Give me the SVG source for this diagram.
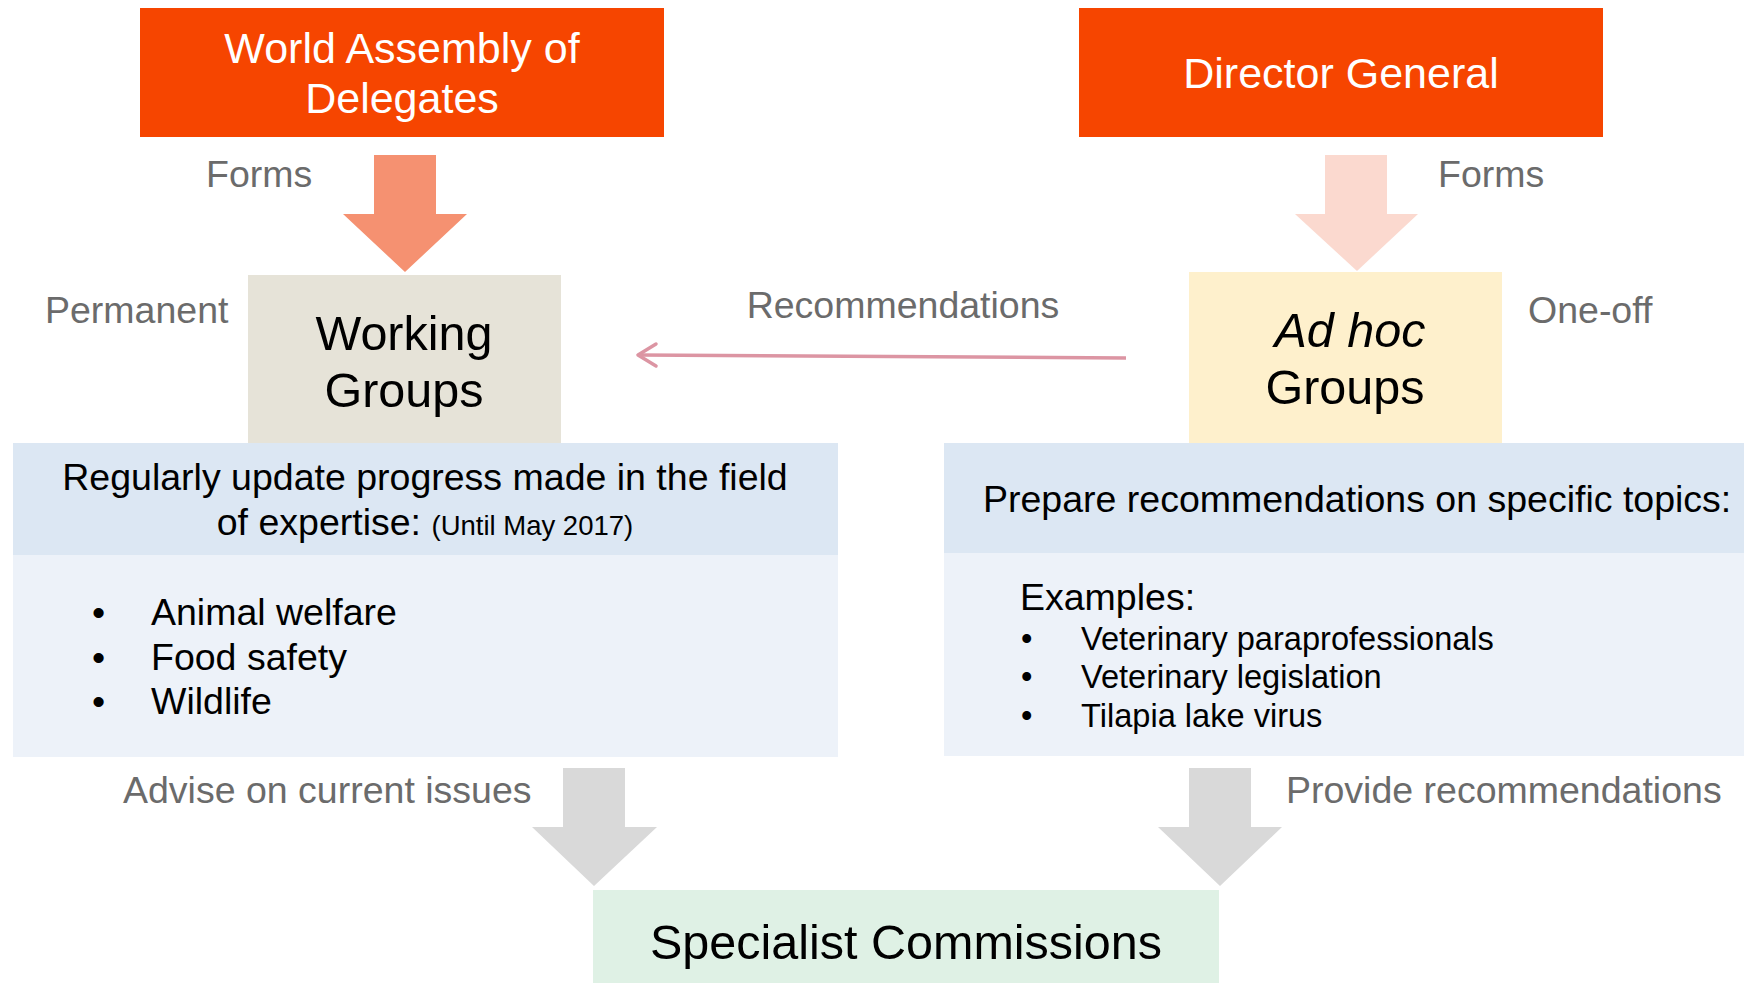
<svg xmlns="http://www.w3.org/2000/svg" width="1744" height="983" viewBox="0 0 1744 983">
<style>
text{font-family:"Liberation Sans",Arial,sans-serif}
.lbl{font-size:37.5px;fill:#6b6b6b}
.big{font-size:48.5px;fill:#000}
.hd{font-size:43px;fill:#fff}
.body{font-size:37.5px;fill:#000}
.sm{font-size:32.6px;fill:#000}
.mid{text-anchor:middle}
</style>
<rect width="1744" height="983" fill="#fff"/>
<g id="connectors">
<polygon points="374,155 436,155 436,214 467,214 405,272 343,214 374,214" fill="#f59171"/>
<polygon points="1325,155 1387,155 1387,214 1418,214 1357,271 1295,214 1325,214" fill="#fbd9cf"/>
<polygon points="563,768 625,768 625,827 657,827 594,886 532,827 563,827" fill="#d9d9d9"/>
<polygon points="1189,768 1251,768 1251,827 1282,827 1220,886 1158,827 1189,827" fill="#d9d9d9"/>
<line x1="1126" y1="358" x2="639" y2="355" stroke="#dc95a3" stroke-width="3.5"/>
<polyline points="656,344 638,355 656,366" fill="none" stroke="#dc95a3" stroke-width="3.5" stroke-linecap="round" stroke-linejoin="round"/>
<text class="lbl" x="206" y="187">Forms</text>
<text class="lbl" x="1438" y="187">Forms</text>
<text class="lbl" x="903" y="318" text-anchor="middle" font-size="38">Recommendations</text>
<text class="lbl" x="123" y="803">Advise on current issues</text>
<text class="lbl" x="1286" y="803" font-size="38">Provide recommendations</text>
</g>
<g id="wad">
<rect x="140" y="8" width="524" height="129" fill="#f64500"/>
<text class="hd mid" x="402" y="63">World Assembly of</text>
<text class="hd mid" x="402" y="113">Delegates</text>
</g>
<g id="dg">
<rect x="1079" y="8" width="524" height="129" fill="#f64500"/>
<text class="hd mid" x="1341" y="88">Director General</text>
</g>
<g id="working-groups">
<rect x="248" y="275" width="313" height="170" fill="#e6e3d8"/>
<text class="big mid" x="404" y="350">Working</text>
<text class="big mid" x="404" y="407">Groups</text>
<text class="lbl" x="45" y="323">Permanent</text>
</g>
<g id="adhoc-groups">
<rect x="1189" y="272" width="313" height="173" fill="#fef0cc"/>
<text class="big mid" x="1350" y="347" font-style="italic">Ad hoc</text>
<text class="big mid" x="1345" y="404">Groups</text>
<text class="lbl" x="1528" y="323">One-off</text>
</g>
<g id="wg-panel">
<rect x="13" y="443" width="825" height="112" fill="#dce7f3"/>
<rect x="13" y="555" width="825" height="202" fill="#edf2f9"/>
<text class="body mid" x="425" y="490">Regularly update progress made in the field</text>
<text class="body mid" x="425" y="535">of expertise: <tspan font-size="27.5">(Until May 2017)</tspan></text>
<text class="body" x="92" y="625">•</text>
<text class="body" x="151" y="625">Animal welfare</text>
<text class="body" x="92" y="670">•</text>
<text class="body" x="151" y="670">Food safety</text>
<text class="body" x="92" y="714">•</text>
<text class="body" x="151" y="714">Wildlife</text>
</g>
<g id="ah-panel">
<rect x="944" y="443" width="800" height="110" fill="#dce7f3"/>
<rect x="944" y="553" width="800" height="203" fill="#edf2f9"/>
<text class="body" x="983" y="512">Prepare recommendations on specific topics:</text>
<text class="body" x="1020" y="610" font-size="37">Examples:</text>
<text class="sm" x="1021" y="650">•</text>
<text class="sm" x="1081" y="650">Veterinary paraprofessionals</text>
<text class="sm" x="1021" y="688">•</text>
<text class="sm" x="1081" y="688">Veterinary legislation</text>
<text class="sm" x="1021" y="727">•</text>
<text class="sm" x="1081" y="727">Tilapia lake virus</text>
</g>
<g id="specialist-commissions">
<rect x="593" y="890" width="626" height="93" fill="#dff1e5"/>
<text class="big mid" x="906" y="959">Specialist Commissions</text>
</g>
</svg>
